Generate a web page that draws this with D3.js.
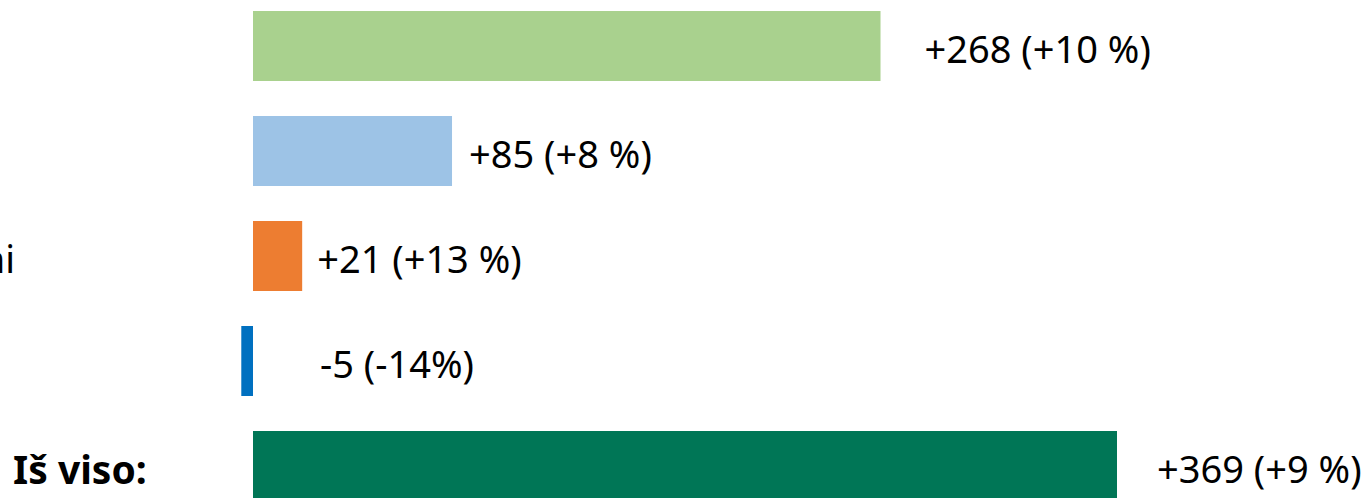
<!DOCTYPE html>
<html>
<head>
<meta charset="utf-8">
<script src="https://cdn.jsdelivr.net/npm/d3@7"></script>
<style>
  html, body { margin: 0; padding: 0; background: #fff; overflow: hidden; }
  svg { display: block; font-family: "Noto Sans", sans-serif; }
</style>
</head>
<body>
<svg></svg>
<script>
const width = 1365;
const height = 498;

// data
const categories = ["Iki 40 metų", "40–54 metų", "55 metų ir vyresni", "Nenurodyta", "Iš viso:"];
const changes = [268, 85, 21, -5, 369];
const labels = ["+268 (+10 %)", "+85 (+8 %)", "+21 (+13 %)", "-5 (-14%)", "+369 (+9 %)"];
const colors = ["#a9d18e", "#9dc3e6", "#ed7d31", "#0070c0", "#007656"];

// label gaps as placed in the original
const labelGap = [44, 17, 15, 67, 40];

const svg = d3.select("svg").attr("width", width).attr("height", height);

const x = d3.scaleLinear().domain([0, 369]).range([253, 1117]);
const y = d3.scaleBand()
	.domain(d3.range(categories.length))
	.range([-6.5, 518.5])
	.paddingInner(1 / 3)
	.paddingOuter(1 / 6);

svg.append("g")
	.selectAll("rect")
	.data(changes)
	.join("rect")
	.attr("x", (d) => Math.min(x(d), x(0)))
	.attr("y", (d, i) => y(i))
	.attr("width", (d) => Math.abs(x(d) - x(0)))
	.attr("height", y.bandwidth())
	.attr("fill", (d, i) => colors[i]);

svg.append("g")
	.selectAll("text")
	.data(changes)
	.join("text")
	.attr("x", (d, i) => Math.max(x(d), x(0)) + labelGap[i])
	.attr("y", (d, i) => y(i) + y.bandwidth() / 2 + 4)
	.attr("dy", "0.35em")
	.attr("font-size", 38)
	.attr("fill", "#000")
	.text((d, i) => labels[i]);

// category labels, mostly off the left edge like in the original
const cat = svg.append("g")
	.selectAll("text")
	.data(categories.slice(0, 4))
	.join("text")
	.attr("y", (d, i) => y(i) + y.bandwidth() / 2 + 4)
	.attr("dy", "0.35em")
	.attr("font-size", 38)
	.attr("fill", "#000")
	.text((d) => d);

const w3 = cat.filter((d, i) => i === 2).node().getComputedTextLength();
cat.attr("x", 15 - w3);

svg.append("text")
	.attr("x", 13)
	.attr("y", y(4) + y.bandwidth() / 2 + 4)
	.attr("dy", "0.35em")
	.attr("font-size", 39)
	.attr("font-weight", "bold")
	.attr("fill", "#000")
	.text(categories[4]);
</script>
</body>
</html>
